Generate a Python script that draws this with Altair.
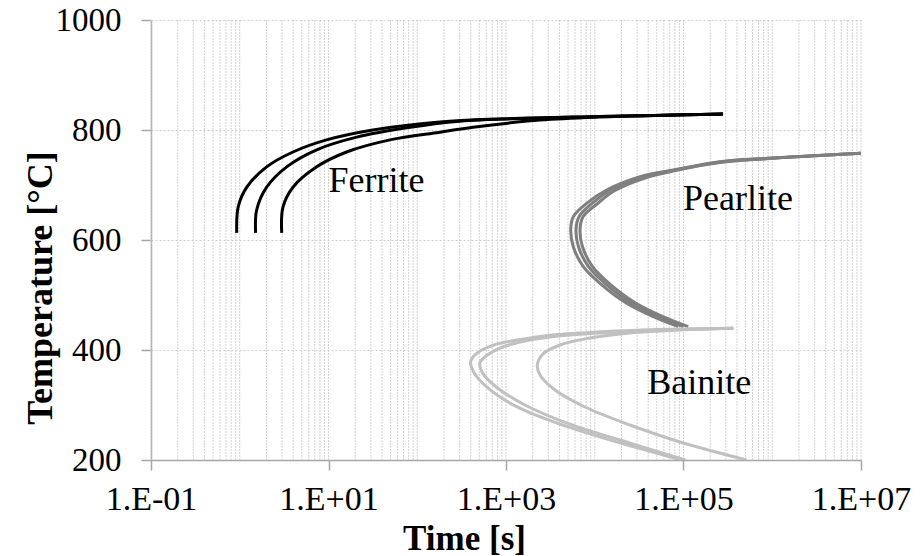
import altair as alt
import pandas as pd

# ---------------- data ----------------
# Ferrite (black) - three curves: time [s], temperature [°C]
ferrite_1_t = [0.925, 0.96, 1.20, 2.01, 3.98, 9.5, 31.6, 180, 855, 11460, 279000]
ferrite_1_T = [613, 660, 696, 733, 760, 782, 800, 814.5, 820, 824.5, 829]
ferrite_2_t = [1.51, 1.55, 2.01, 3.38, 7.36, 20.8, 76, 302, 2415, 11460, 279000]
ferrite_2_T = [613, 654.5, 696, 733, 764, 787, 804, 816, 822, 824.5, 829]
ferrite_3_t = [2.97, 3.07, 3.98, 7.36, 16.0, 49.3, 180, 425, 2415, 11460, 279000]
ferrite_3_T = [613, 660, 696, 733, 760, 782, 796, 805, 818, 823.5, 829]

# Pearlite (mid grey) - three curves
pearlite_1_t = [1.0e7, 865000, 258000, 76700, 32400, 13600, 8110, 5730, 5360, 5730, 7430, 11460, 22900, 45700, 87300]
pearlite_1_T = [757.6, 748.5, 742.4, 727.3, 715.1, 690.9, 666.7, 642.4, 618.2, 587.8, 551.5, 521.3, 484.9, 460.5, 442.4]
pearlite_2_t = [1.0e7, 865000, 258000, 76700, 32400, 14860, 9310, 6650, 6150, 6560, 8510, 13000, 25900, 51600, 99500]
pearlite_2_T = [757.6, 748.2, 741.8, 726.4, 713.6, 690, 666.4, 642.4, 618.2, 587.8, 551.5, 521.3, 484.9, 460.5, 442.4]
pearlite_3_t = [1.0e7, 865000, 258000, 76700, 36800, 16500, 10600, 7380, 6820, 7280, 9440, 14500, 29200, 58700, 113000]
pearlite_3_T = [757.6, 747.8, 740.9, 725.5, 712.7, 689.1, 665.5, 642.4, 618.2, 587.8, 551.5, 521.3, 484.9, 460.5, 442.4]

# Bainite (light grey) - three curves
bainite_1_t = [364000, 64600, 11460, 3130, 1318, 721, 468, 400, 428, 605, 1318, 4830, 17660, 95000]
bainite_1_T = [439.5, 437.6, 433, 427, 418, 409, 394, 379, 361, 333, 297, 261, 233, 200]
bainite_2_t = [364000, 64700, 11460, 3130, 1438, 855, 595, 509, 537, 752, 1637, 5546, 19300, 105000]
bainite_2_T = [439.5, 436.4, 430.9, 423.6, 414.5, 403.6, 389.1, 376.4, 360, 334.5, 300, 263.6, 236.4, 200]
bainite_3_t = [364000, 91400, 25000, 8830, 4060, 2610, 2254, 2415, 3565, 7760, 25000, 91400, 515000]
bainite_3_T = [439.5, 436.4, 430.9, 421.8, 409.1, 392.7, 372.7, 354.5, 327.3, 296.4, 263.6, 232.7, 200]

# Region labels
label_names = ["Ferrite", "Pearlite", "Bainite"]
label_t = [34.8, 411000, 150000]
label_T = [687, 654.5, 319.5]

# Axis ticks
x_major_ticks = [0.1, 10, 1000, 100000, 10000000]
x_tick_labels = ["1.E-01", "1.E+01", "1.E+03", "1.E+05", "1.E+07"]
y_ticks = [200, 400, 600, 800, 1000]
x_grid_values = [k * 10.0 ** e for e in range(-1, 7) for k in range(1, 10)] + [1.0e7]

phases = ["Ferrite", "Pearlite", "Bainite"]
phase_colors = ["#000000", "#7f7f7f", "#c0c0c0"]

# ---------------- build tables ----------------
curves = [
    ("Ferrite", "F1", ferrite_1_t, ferrite_1_T),
    ("Ferrite", "F2", ferrite_2_t, ferrite_2_T),
    ("Ferrite", "F3", ferrite_3_t, ferrite_3_T),
    ("Pearlite", "P1", pearlite_1_t, pearlite_1_T),
    ("Pearlite", "P2", pearlite_2_t, pearlite_2_T),
    ("Pearlite", "P3", pearlite_3_t, pearlite_3_T),
    ("Bainite", "B1", bainite_1_t, bainite_1_T),
    ("Bainite", "B2", bainite_2_t, bainite_2_T),
    ("Bainite", "B3", bainite_3_t, bainite_3_T),
]
rows = []
for phase, cid, ts, Ts in curves:
    for i, (t, T) in enumerate(zip(ts, Ts)):
        rows.append({"phase": phase, "curve": cid, "idx": i, "t": t, "T": T})
df = pd.DataFrame(rows)
labels_df = pd.DataFrame({"name": label_names, "t": label_t, "T": label_T})
grid_df = pd.DataFrame({"g": x_grid_values})

FONT = "Liberation Serif"

# label text for each major tick, looked up from the tick label list
label_expr = " : ".join(
    f"datum.value < {v * 3:g} ? '{l}'" for v, l in zip(x_major_ticks[:-1], x_tick_labels[:-1])
) + f" : '{x_tick_labels[-1]}'"

x_scale = alt.Scale(type="log", domain=[0.1, 1.0e7], nice=False)
y_scale = alt.Scale(domain=[200, 1000], nice=False, zero=False)

x_axis = alt.Axis(
    values=x_major_ticks,
    labelExpr=label_expr,
    grid=False,
    title="Time [s]",
    titleFont=FONT, titleFontSize=35, titleFontWeight="bold", titleColor="black",
    titleX=313, titleY=89, titleAlign="center", titleBaseline="alphabetic", titleAngle=0,
    labelFont=FONT, labelFontSize=34, labelColor="black", labelPadding=12,
    labelFlush=False, labelOverlap=False,
    domainColor="#a6a6a6", domainWidth=1.5,
    tickColor="#a6a6a6", tickWidth=1.5, tickSize=10,
)
y_axis = alt.Axis(
    values=y_ticks,
    format="d",
    grid=True, gridColor="#cfcfcf", gridDash=[2, 2], gridWidth=1,
    title="Temperature [°C]",
    titleFont=FONT, titleFontSize=36, titleFontWeight="bold", titleColor="black",
    titleX=-100, titleY=267.5, titleAlign="center", titleBaseline="alphabetic", titleAngle=-90,
    labelFont=FONT, labelFontSize=33, labelColor="black", labelPadding=20,
    labelBaseline="middle", labelFlush=False,
    domainColor="#a6a6a6", domainWidth=1.5,
    tickColor="#a6a6a6", tickWidth=1.5, tickSize=10,
)

grid = alt.Chart(grid_df).mark_rule(color="#d2d2d2", strokeDash=[2, 1], strokeWidth=1).encode(
    x=alt.X("g:Q", scale=x_scale, axis=x_axis),
)

lines = alt.Chart(df).mark_line(strokeWidth=3, interpolate="catmull-rom", clip=True).encode(
    x=alt.X("t:Q", scale=x_scale, axis=x_axis),
    y=alt.Y("T:Q", scale=y_scale, axis=y_axis),
    color=alt.Color("phase:N", scale=alt.Scale(domain=phases, range=phase_colors), legend=None),
    detail="curve:N",
    order="idx:Q",
)

texts = alt.Chart(labels_df).mark_text(
    font=FONT, fontSize=36, color="black", align="center", baseline="alphabetic"
).encode(
    x=alt.X("t:Q", scale=x_scale, axis=x_axis),
    y=alt.Y("T:Q", scale=y_scale, axis=y_axis),
    text="name:N",
)

chart = alt.layer(grid, lines, texts).properties(
    width=710,
    height=440,
    autosize=alt.AutoSizeParams(type="none"),
    padding={"left": 143, "top": 12, "right": 53, "bottom": 96},
    background="white",
).configure_view(strokeWidth=0)

chart.save("out.html", embed_options={"renderer": "svg", "actions": False})
